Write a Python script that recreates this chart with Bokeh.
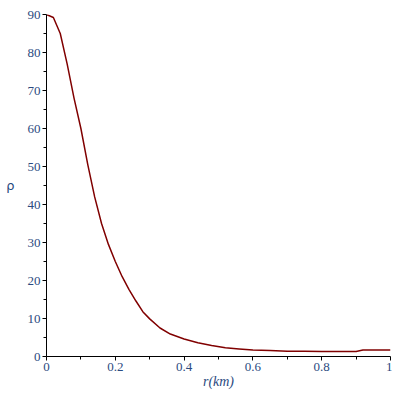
from bokeh.plotting import figure
from bokeh.models import FixedTicker, Range1d
from bokeh.embed import file_html
from bokeh.resources import INLINE

r_km = [0.0, 0.02, 0.04, 0.06, 0.08, 0.10, 0.12, 0.14, 0.16, 0.18, 0.20, 0.22,
        0.24, 0.26, 0.28, 0.30, 0.33, 0.36, 0.40, 0.44, 0.48, 0.52, 0.56, 0.60,
        0.65, 0.70, 0.75, 0.80, 0.85, 0.90, 0.92, 0.95, 1.0]
rho = [90.0, 89.2, 85.0, 77.0, 68.0, 60.0, 50.5, 42.0, 35.0, 29.5, 25.0, 21.0,
       17.6, 14.6, 11.8, 9.9, 7.5, 5.9, 4.6, 3.6, 2.9, 2.3, 2.0, 1.7,
       1.55, 1.4, 1.35, 1.3, 1.3, 1.3, 1.7, 1.7, 1.7]

x_ticks = [0, 0.2, 0.4, 0.6, 0.8, 1.0]
x_minor = [0.1, 0.3, 0.5, 0.7, 0.9]
y_ticks = [0, 10, 20, 30, 40, 50, 60, 70, 80, 90]
y_minor = [5, 15, 25, 35, 45, 55, 65, 75, 85]

SERIF = "Liberation Serif"

p = figure(width=392, height=392, output_backend="svg", toolbar_location=None,
           x_range=Range1d(0, 1), y_range=Range1d(0, 90),
           min_border_left=46, min_border_right=2, min_border_top=14,
           min_border_bottom=36)
p.outline_line_color = None
p.xgrid.visible = False
p.ygrid.visible = False

p.line(r_km, rho, line_color="#800000", line_width=1.5)

label_color = "#2b4a80"
for ax in (p.xaxis[0], p.yaxis[0]):
    ax.axis_line_color = "black"
    ax.axis_line_width = 1
    ax.major_tick_line_color = "black"
    ax.minor_tick_line_color = "black"
    ax.major_tick_out = 4
    ax.major_tick_in = 0
    ax.minor_tick_out = 3
    ax.minor_tick_in = 0
    ax.major_label_text_font = SERIF
    ax.major_label_text_font_style = "normal"
    ax.major_label_text_font_size = "13px"
    ax.major_label_text_color = label_color
    ax.major_label_standoff = 2

p.xaxis[0].ticker = FixedTicker(ticks=x_ticks, minor_ticks=x_minor)
p.yaxis[0].ticker = FixedTicker(ticks=y_ticks, minor_ticks=y_minor)
p.xaxis[0].major_label_overrides = {0: "0", 1: "1", 0.2: "0.2", 0.4: "0.4", 0.6: "0.6", 0.8: "0.8"}

p.xaxis[0].axis_label = "r(km)"
p.xaxis[0].axis_label_text_font = SERIF
p.xaxis[0].axis_label_text_font_style = "italic"
p.xaxis[0].axis_label_text_font_size = "14px"
p.xaxis[0].axis_label_text_color = label_color
p.xaxis[0].axis_label_standoff = 0

p.yaxis[0].axis_label = "ρ"
p.yaxis[0].axis_label_orientation = "horizontal"
p.yaxis[0].axis_label_text_font = "DejaVu Sans"
p.yaxis[0].axis_label_text_font_style = "normal"
p.yaxis[0].axis_label_text_font_size = "13px"
p.yaxis[0].axis_label_text_color = label_color
p.yaxis[0].axis_label_standoff = 10

open("out.html", "w").write(file_html(p, INLINE))
